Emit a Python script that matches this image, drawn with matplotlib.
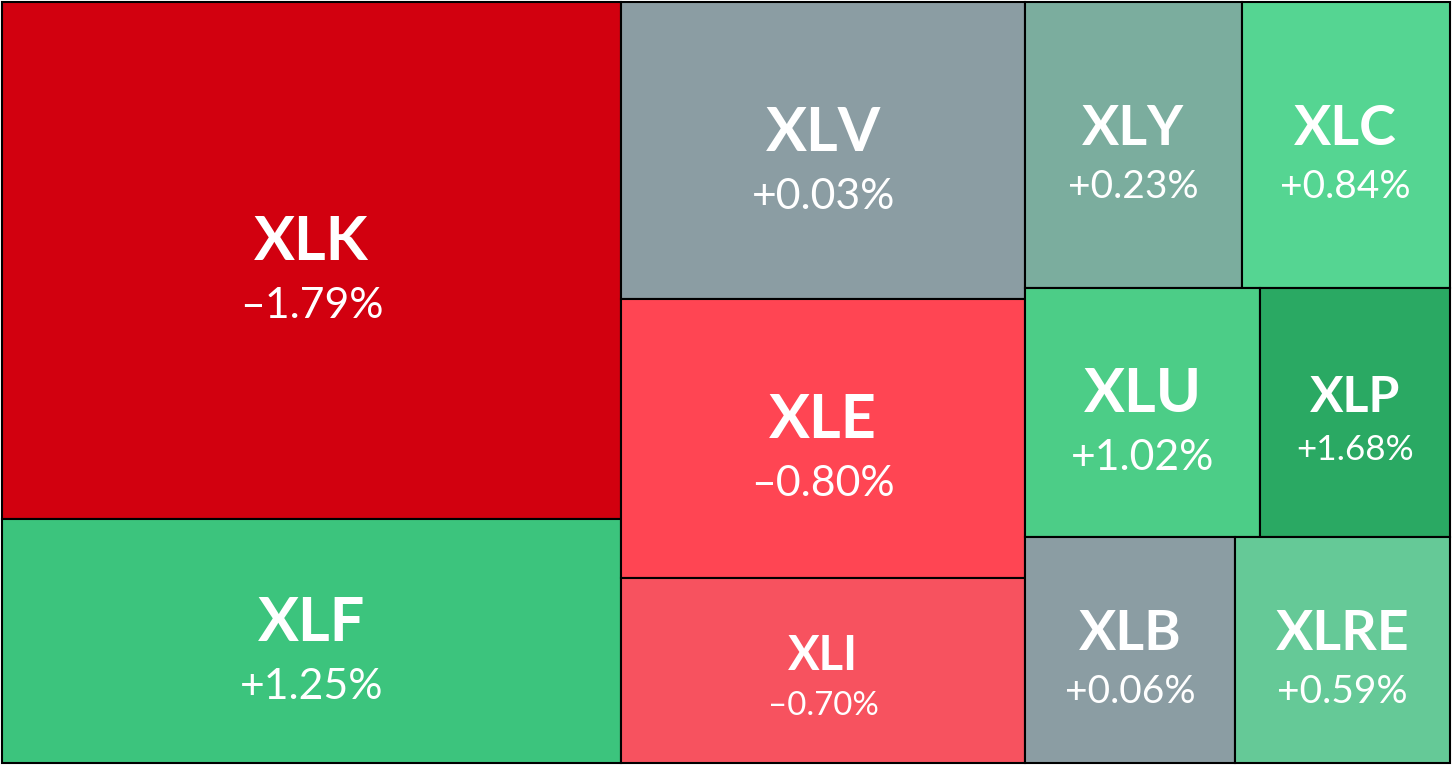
import matplotlib
matplotlib.use("Agg")
import matplotlib.pyplot as plt
from matplotlib.patches import Rectangle

# ---- data ----
tickers = ["XLK", "XLF", "XLV", "XLE", "XLI", "XLY", "XLC", "XLU", "XLP", "XLB", "XLRE"]
weights = [29.0, 13.7, 10.9, 10.2, 6.8, 5.6, 5.4, 5.3, 4.3, 4.3, 4.4]
changes = [-1.79, 1.25, 0.03, -0.80, -0.70, 0.23, 0.84, 1.02, 1.68, 0.06, 0.59]

# layout grouping: columns -> rows -> tiles (indices into the lists above)
layout = [
    [[0], [1]],
    [[2], [3], [4]],
    [[5, 6], [7, 8], [9, 10]],
]

# ---- style ----
colors = ["#D2000F", "#3CC47D", "#8B9DA3", "#FF4553", "#F7525F", "#7BAD9E",
          "#55D592", "#4CCD87", "#2AA963", "#8B9DA3", "#65C997"]
ticker_pt = [44, 44, 44, 44, 34, 40, 40, 44, 36, 40, 40]

W, H = 1456, 771
fig = plt.figure(figsize=(W / 100, H / 100), dpi=100)
fig.patch.set_facecolor("white")
left_px, right_px, top_px, bot_px = 2, 1450, 2, 763
ax = fig.add_axes([left_px / W, (H - bot_px) / H, (right_px - left_px) / W, (bot_px - top_px) / H])
ax.set_xlim(0, 1)
ax.set_ylim(1, 0)
ax.axis("off")

total = sum(weights)
x0 = 0.0
for col in layout:
    col_w = sum(weights[i] for row in col for i in row)
    cw = col_w / total
    y0 = 0.0
    for row in col:
        row_w = sum(weights[i] for i in row)
        rh = row_w / col_w
        xx = x0
        for i in row:
            tw = cw * weights[i] / row_w
            ax.add_patch(Rectangle((xx, y0), tw, rh, facecolor=colors[i],
                                   edgecolor="black", linewidth=1.5, clip_on=False))
            cx, cy = xx + tw / 2, y0 + rh / 2
            s = ticker_pt[i]
            ax.annotate(tickers[i], (cx, cy), xytext=(0, 0), textcoords="offset points",
                        ha="center", va="baseline", color="white",
                        fontsize=s, fontweight="bold", family=["Lato", "DejaVu Sans"])
            pct = f"{changes[i]:+.2f}%".replace("-", "\u2013")
            ax.annotate(pct, (cx, cy), xytext=(0, -0.95 * s), textcoords="offset points",
                        ha="center", va="baseline", color="white",
                        fontsize=0.7 * s, family=["Lato", "DejaVu Sans"])
            xx += tw
        y0 += rh
    x0 += cw

fig.savefig("out.png", dpi=100, facecolor="white")
